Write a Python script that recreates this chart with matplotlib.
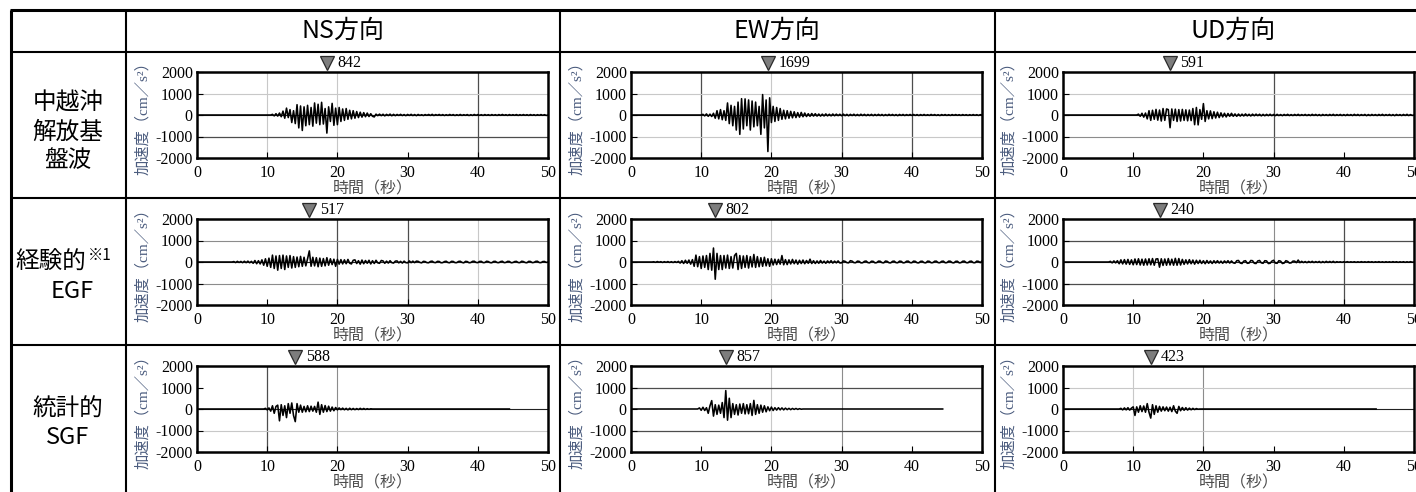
import numpy as np
import matplotlib
matplotlib.use("Agg")
import matplotlib.pyplot as plt
from matplotlib.lines import Line2D
from matplotlib.transforms import blended_transform_factory

SERIF = "Liberation Serif"
CJK = "Noto Sans CJK JP"
plt.rcParams["font.family"] = [SERIF, CJK]
plt.rcParams["axes.unicode_minus"] = False

W, H = 1416, 492
DT = 0.25

directions = ["NS方向", "EW方向", "UD方向"]

# --- 中越沖 解放基盤波 (each line = 2 s) ---
chuetsu_start = [10.5, 10.0, 10.5]
chuetsu_ns = [
    0, 30, -40, 60, -50, 90, -80, 180,
    -150, 320, -120, 250, -350, 200, -400, 480,
    -600, 420, -720, 380, -500, 450, -450, 350,
    -520, 560, -380, 500, -450, 590, -420, 300,
    -842, 380, -300, 540, -480, 320, -450, 350,
    -300, 280, -250, 300, -200, 220, -180, 200,
    -150, 160, -120, 130, -100, 110, -80, 90,
    -70, 60, -60, -90, 40, -30, 40, -30,
    35, -40, 30, -25, 40, -35, 30, -30,
    25, -20, 30, -25, 20, -30, 25, -20,
    30, -25, 20, -30, 25, -20, 15, -25,
    20, -15, 25, -20, 30, -25, 20, -15,
    25, -20, 20, -25, 15, -20, 25, -15,
    20, -25, 15, -20, 25, -20, 15, -15,
    20, -25, 15, -20, 25, -15, 20, -15,
    15, -20, 20, -15, 15, -20, 20, -15,
    15, -20, 20, -15, 25, -15, 15, -20,
    20, -15, 15, -15, 20, -20, 15, -15,
    20, -15, 15, -20, 20, -15, 15, -20,
    15, -15, 20, -15, 15, -20, 0,
]
chuetsu_ew = [
    0, 30, -40, 50, -60, 40, -70, 80,
    -150, 200, -180, 250, -220, 200, -250, 560,
    -400, 450, -500, 400, -700, 600, -900, 760,
    -650, 750, -500, 700, -700, 650, -550, 600,
    -500, 400, -900, 950, -600, 700, -1699, 800,
    -350, 400, -300, 350, -250, 300, -200, 220,
    -180, 200, -150, 170, -130, 150, -120, 110,
    -100, 120, -80, 90, -70, 60, -60, 70,
    -50, 60, -50, 45, -50, 40, -45, 50,
    -40, 35, -40, 45, -35, 40, -30, 35,
    -35, 40, -30, 30, -35, 30, -25, 35,
    -30, 25, -30, 35, -25, 30, -30, 25,
    -25, 30, -30, 25, -25, 30, -25, 25,
    -30, 20, -25, 30, -20, 25, -25, 20,
    -30, 25, -20, 25, -25, 20, -20, 25,
    -20, 25, -20, 20, -25, 20, -20, 25,
    -20, 15, -20, 25, -15, 20, -20, 15,
    -25, 20, -15, 20, -20, 15, -20, 20,
    -15, 20, -15, 15, -20, 20, -15, 15,
    -20, 15, -15, 20, -15, 15, -20, 15,
    0,
]
chuetsu_ud = [
    0, 40, -60, 80, -100, 90, -180, 200,
    -250, 220, -200, 260, -240, 230, -280, 300,
    -250, 280, 250, -591, 280, -250, 270, -300,
    250, -280, 260, -250, 240, -270, 230, -260,
    300, -450, 350, -460, 250, -200, 530, -300,
    200, -180, 190, -170, 150, -140, 130, -120,
    100, -90, 80, -90, 70, -60, 80, -60,
    50, -60, 45, -50, 40, -45, 50, -40,
    35, -45, 40, -35, 40, -30, 35, -40,
    30, -35, 30, -30, 35, -30, 25, -30,
    30, -25, 20, -30, 25, -20, 30, -25,
    20, -25, 25, -20, 30, -25, 20, -20,
    25, -25, 20, -25, 30, -20, 25, -25,
    20, -30, 25, -20, 20, -25, 25, -20,
    30, -25, 20, -20, 25, -25, 20, -25,
    25, -20, 20, -25, 30, -20, 25, -25,
    20, -20, 25, -30, 20, -25, 25, -20,
    20, -25, 25, -20, 30, -25, 20, -20,
    25, -25, 20, -30, 25, -20, 20, -25,
    25, -20, 30, -25, 20, -20, 0,
]

# --- 経験的 EGF ---
egf_start = [5.0, 3.0, 6.5]
egf_ns = [
    0, 20, -25, 30, -20, 25, -30, 35,
    -30, 40, -35, 30, -60, 70, -80, 60,
    -90, 100, -150, 150, -200, 180, -250, 320,
    -300, 280, -380, 300, -300, 320, -350, 280,
    -250, 300, -280, 250, -250, 230, -220, 260,
    -200, 220, -180, 150, 517, -200, 220, -180,
    200, -220, 180, -200, 160, -180, 200, -150,
    150, -120, 130, -200, 120, -100, 110, -90,
    100, -80, 120, -60, -90, 80, 100, -70,
    60, -100, 90, -80, 70, -60, 80, -90,
    60, -70, 80, -40, -60, 70, 50, -60,
    40, -50, 60, -30, -50, 40, 50, -40,
    30, -50, 40, -30, -40, 50, -30, 40,
    -30, 40, 30, -20, -40, 30, 20, -30,
    -35, 25, 40, -20, -30, 30, 25, -35,
    -30, 20, 35, -25, -35, 30, 25, -30,
    -30, 25, 35, -20, -40, 30, 20, -35,
    -25, 30, 35, -20, -30, 25, 30, -30,
    -25, 35, 20, -30, -35, 25, 30, -25,
    -30, 20, 35, -30, -20, 30, 25, -35,
    -25, 20, 30, -25, -30, 35, 20, -25,
    -35, 30, 25, -30, -20, 30, 35, -25,
    -30, 20, 25, -20, 0,
]
egf_ew = [
    0, 10, -15, 20, -10, 15, -20, 15,
    -15, 20, -20, 15, -25, 20, -20, 30,
    -50, 60, -70, 80, -60, 90, -100, 110,
    -200, 320, -220, 250, -300, 280, -250, 300,
    -350, 400, -380, 650, -802, 400, -350, 300,
    -350, 300, -280, 320, -300, 250, -280, 300,
    400, -350, 300, -300, 280, -250, 300, -280,
    250, -230, 350, -250, 250, -220, 200, -200,
    220, -180, 150, -200, 150, -140, 130, -120,
    120, -100, 300, -130, 110, -120, 100, -90,
    120, -80, 90, -100, 80, -70, 90, -80,
    70, -60, 130, -70, 60, -70, 50, -60,
    70, -50, 40, -60, 50, -40, 60, -50,
    40, -40, 50, -45, -40, 50, 30, -30,
    -40, 60, 40, -30, -35, 40, 30, -40,
    -35, 30, 45, -30, -40, 35, 30, -40,
    -30, 40, 35, -30, -40, 45, 30, -35,
    -40, 30, 40, -30, -35, 40, 30, -40,
    -30, 35, 40, -30, -35, 40, 30, -35,
    -40, 30, 35, -30, -40, 40, 30, -35,
    -30, 35, 40, -30, -35, 30, 40, -35,
    -30, 40, 35, -30, -40, 30, 35, -40,
    -30, 35, 40, -30, -35, 30, 40, -30,
    -35, 40, 30, -30, 50,
]
egf_ud = [
    0, 30, -40, 50, -40, 60, -80, 100,
    -90, 110, -100, 120, -110, 100, -130, 140,
    -120, 150, -140, 130, -150, 140, -140, 150,
    -130, 160, -150, 140, 150, -240, 150, -160,
    140, -150, 160, -140, 130, -150, 170, -150,
    160, -140, 120, -110, 100, -90, 110, -80,
    90, -100, 80, -70, 80, -70, 60, -80,
    70, -60, 50, -70, 60, -50, 60, -50,
    40, -60, 50, -40, 60, -50, 50, -40,
    -60, 60, 70, -50, -70, 40, 60, -60,
    -50, 70, 60, -60, -70, 50, 70, -40,
    -60, 60, 50, -70, -60, 40, 80, -50,
    -60, 60, 40, -70, -50, 60, 30, -50,
    -40, 40, 40, -30, 90, -30, 30, -25,
    20, -30, 25, -20, 30, -25, 20, -20,
    25, -30, 20, -25, 30, -20, 25, -20,
    30, -25, 15, -10, 10, -15, 12, -10,
    15, -12, 10, -10, 12, -15, 10, -12,
    15, -10, 10, -12, 15, -10, 12, -15,
    10, -10, 15, -12, 10, -15, 12, -10,
    10, -12, 15, -10, 12, -15, 10, -10,
    12, -15, 10, -12, 15, -10, 0,
]

# --- 統計的 SGF (record ends before 50 s) ---
sgf_start = [9.5, 9.5, 8.0]
sgf_end = [44.5, 44.4, 44.6]
sgf_ns = [
    0, 30, -40, 50, -100, 150, -200, 120,
    180, -550, 200, -300, 150, -400, 250, -200,
    280, -300, -588, 250, -150, 180, -150, 120,
    -130, 150, -120, 130, -100, 120, -150, 320,
    -250, 200, -150, 160, -120, 130, -100, 90,
    -80, 70, -40, 50, -30, 40, -35, 30,
    -40, 35, -30, 25, -30, 20, -25, 30,
    -20, 25, -20, 15, -15, 10, 0,
]
sgf_ew = [
    0, 50, -60, 80, -70, 60, -200, 150,
    390, -330, 200, -250, 180, -200, 300, -400,
    857, -520, 500, -400, 250, -250, 200, -280,
    230, -200, 250, -230, 200, -220, 250, -300,
    400, -250, 200, -200, 180, -150, 150, -130,
    100, -80, 90, -70, 60, -50, 60, -40,
    50, -40, 40, -30, 30, -30, 25, -20,
    25, -20, 15, -10, 0,
]
sgf_ud = [
    0, 30, -40, 50, -40, 60, -50, 40,
    100, -300, 100, -150, 150, -120, 140, -150,
    250, -150, -423, 200, -250, 150, -150, 120,
    -100, 100, -80, 90, -100, 80, -120, 150,
    -100, -200, 120, -80, 70, -60, 60, -50,
    40, -35, 30, -25, 20, -10, 0,
]

traces = [[chuetsu_ns, chuetsu_ew, chuetsu_ud],
          [egf_ns, egf_ew, egf_ud],
          [sgf_ns, sgf_ew, sgf_ud]]
starts = [chuetsu_start, egf_start, sgf_start]
ends = [[None, None, None], [None, None, None], sgf_end]

# grid lines as they appear in each panel: d=dark, g=grey, l=light
SHADE = {"d": ("#4d4d4d", 0.9), "g": ("#8c8c8c", 0.8), "l": ("#c8c8c8", 0.8)}
grid_v = {
    (0, 0): {10: "l", 20: "l", 40: "d"},
    (0, 1): {10: "d", 20: "l", 30: "d", 40: "d"},
    (0, 2): {30: "d"},
    (1, 0): {20: "d", 30: "d", 40: "l"},
    (1, 1): {20: "l", 30: "d"},
    (1, 2): {30: "g", 40: "d"},
    (2, 0): {10: "d", 20: "g"},
    (2, 1): {20: "l", 30: "g"},
    (2, 2): {10: "l", 20: "g"},
}
grid_h = {
    (0, 0): {1000: "l", -1000: "d"},
    (0, 1): {1000: "l", -1000: "l"},
    (0, 2): {1000: "l", -1000: "g"},
    (1, 0): {1000: "g", -1000: "g"},
    (1, 1): {1000: "l", -1000: "l"},
    (1, 2): {1000: "d", -1000: "d"},
    (2, 0): {-1000: "l"},
    (2, 1): {1000: "d", -1000: "d"},
    (2, 2): {1000: "l", -1000: "l"},
}

fig = plt.figure(figsize=(W / 100, H / 100), dpi=100)


def fx(x):
    return x / W


def fy(y):
    return 1 - y / H


def px_axes(left, top, width, height):
    return fig.add_axes([fx(left), fy(top + height), width / W, height / H])


def hline(y, x0, x1, lw):
    fig.add_artist(Line2D([fx(x0), fx(x1)], [fy(y), fy(y)], color="k",
                          lw=lw, transform=fig.transFigure, solid_capstyle="butt"))


def vline(x, y0, y1, lw):
    fig.add_artist(Line2D([fx(x), fx(x)], [fy(y0), fy(y1)], color="k",
                          lw=lw, transform=fig.transFigure, solid_capstyle="butt"))


col_left = [197, 631, 1063]
row_top = [72, 219, 366]
AX_W, AX_H = 351, 86

for r in range(3):
    for c in range(3):
        ax = px_axes(col_left[c], row_top[r], AX_W, AX_H)
        vals = np.array(traces[r][c], dtype=float)
        t = starts[r][c] + DT * np.arange(len(vals))
        tt = np.concatenate([[0.0], t])
        vv = np.concatenate([[0.0], vals])
        if ends[r][c] is not None:
            tt = np.append(tt, ends[r][c])
            vv = np.append(vv, 0.0)

        for x, s in grid_v[(r, c)].items():
            ax.axvline(x, color=SHADE[s][0], lw=SHADE[s][1], zorder=1)
        for y, s in grid_h[(r, c)].items():
            ax.axhline(y, color=SHADE[s][0], lw=SHADE[s][1], zorder=1)
        if (r, c) != (2, 1):
            ax.axhline(0, color="#222222", lw=0.8, zorder=1)

        ax.plot(tt, vv, color="k", lw=1.15, zorder=3)
        ax.set_xlim(0, 50)
        ax.set_ylim(-2000, 2000)
        ax.set_xticks(range(0, 51, 10))
        ax.set_yticks([-2000, -1000, 0, 1000, 2000])
        ax.tick_params(direction="in", length=4, width=0.8, labelsize=11.5)
        ax.tick_params(axis="x", pad=5)
        ax.tick_params(axis="y", pad=3)
        for sp in ax.spines.values():
            sp.set_linewidth(1.8)

        ax.text(-54 / AX_W, 0.5, "加速度（cm／s²）", rotation=90,
                transform=ax.transAxes, ha="center", va="center",
                fontsize=11, color="#4b5c7e")
        ax.text(0.5, -0.37, "時間（秒）", transform=ax.transAxes,
                ha="center", va="center", fontsize=11.5, color="#4d4d4d")

        # peak marker
        k = int(np.argmax(np.abs(vals)))
        tr = blended_transform_factory(ax.transData, ax.transAxes)
        ax.plot([t[k]], [1.105], marker="v", ms=10.5, mfc="#7d7d7d",
                mec="#2a2a2a", mew=0.9, transform=tr, clip_on=False)
        ax.annotate(f"{abs(vals[k]):.0f}", xy=(t[k], 1.105), xycoords=tr,
                    xytext=(7.5, 0), textcoords="offset points",
                    fontsize=11.5, va="center", ha="left")

# table frame
hline(10, 10, W, 2.2)
vline(11, 10, H, 2.2)
hline(52, 10, W, 1.5)
hline(198, 10, W, 1.5)
hline(345, 10, W, 1.5)
for x in [126, 560, 995]:
    vline(x, 10, H, 1.5)

# header and row captions
for x, s in zip([343, 777, 1233], directions):
    fig.text(fx(x), fy(31), s, family=CJK, fontsize=18, ha="center", va="center")

fig.text(fx(68), fy(103), "中越沖", family=CJK, fontsize=17, ha="center", va="center")
fig.text(fx(68), fy(132), "解放基", family=CJK, fontsize=17, ha="center", va="center")
fig.text(fx(68), fy(161), "盤波", family=CJK, fontsize=17, ha="center", va="center")
fig.text(fx(51), fy(262), "経験的", family=CJK, fontsize=17, ha="center", va="center")
fig.text(fx(88), fy(255), "※1", family=CJK, fontsize=11, ha="left", va="center")
fig.text(fx(72), fy(291), "EGF", family=CJK, fontsize=17, ha="center", va="center")
fig.text(fx(68), fy(409), "統計的", family=CJK, fontsize=17, ha="center", va="center")
fig.text(fx(68), fy(438), "SGF", family=CJK, fontsize=17, ha="center", va="center")

fig.savefig("out.png", dpi=100)
